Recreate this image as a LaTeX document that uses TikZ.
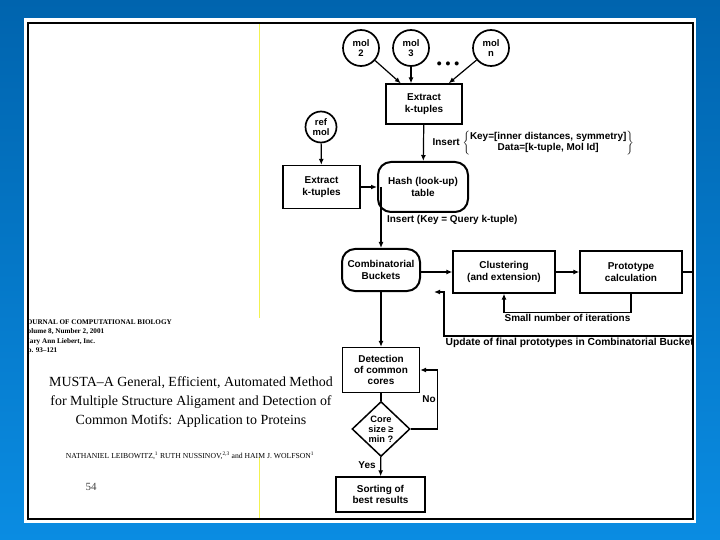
\documentclass[tikz,border=0pt]{standalone}
\usepackage{fontspec}
\setmainfont{Liberation Serif}
\setsansfont{Liberation Sans}
\usetikzlibrary{shapes.geometric,arrows.meta}

\definecolor{slidetop}{HTML}{0064AE}
\definecolor{slidebot}{HTML}{0A8CE2}
\definecolor{rulecol}{HTML}{F2F250}

\tikzset{
  flow/.style={font=\sffamily\bfseries\fontsize{10}{11.3}\selectfont, align=center, line width=1.3bp},
  procbox/.style={flow, draw, inner sep=2bp},
  roundbox/.style={flow, draw, rounded corners=13bp, line width=2bp},
  molnode/.style={flow, draw, circle, line width=1.7bp, minimum size=36bp, inner sep=0pt,
    font=\sffamily\bfseries\fontsize{9.5}{10}\selectfont},
  testnode/.style={flow, draw, diamond, line width=1.5bp, minimum width=58bp, minimum height=55bp,
    inner sep=0pt, font=\sffamily\bfseries\fontsize{9.3}{10}\selectfont},
  lbl/.style={font=\sffamily\bfseries\fontsize{10}{11}\selectfont, inner sep=1.5bp},
  link/.style={line width=1.2bp, ->},
  papertxt/.style={inner sep=0pt},
  >={Latex[length=6bp,width=5bp]}
}

\begin{document}
\begin{tikzpicture}[x=1bp,y=-1bp]
  \useasboundingbox (0,0) rectangle (720,540);
  \shade[top color=slidetop, bottom color=slidebot] (0,0) rectangle (720,540);
  \fill[white] (24,18) rectangle (696,523);

  \begin{scope}
    \clip (27.5,23) rectangle (692.5,519);
    % paper excerpt
    \draw[rulecol, line width=0.9bp] (259,23) -- (259,318);
    \draw[rulecol, line width=0.9bp] (259,457) -- (259,519);
    \node[papertxt, anchor=west, align=left, font=\rmfamily\bfseries\fontsize{7.2}{9.3}\selectfont] (jhead) at (23,337)
      {JOURNAL OF COMPUTATIONAL BIOLOGY\\Volume 8, Number 2, 2001\\Mary Ann Liebert, Inc.\\Pp. 93--121};
    \node[papertxt, align=center, font=\rmfamily\fontsize{14}{19}\selectfont] (title) at (191,402)
      {MUSTA--A General, Efficient, Automated Method\\for Multiple Structure Aligament and Detection of\\Common Motifs: Application to Proteins};
    \node[papertxt, font=\rmfamily\fontsize{7.7}{8}\selectfont] (auth) at (190,456)
      {NATHANIEL LEIBOWITZ,\textsuperscript{1} RUTH NUSSINOV,\textsuperscript{2,3} and HAIM J. WOLFSON\textsuperscript{1}};
    \node[papertxt, font=\rmfamily\fontsize{11}{12}\selectfont, text=black!75] (pgno) at (91,487) {54};

    % flow chart
    \node[molnode] (mol2) at (361,48) {mol\\2};
    \node[molnode] (mol3) at (411,48) {mol\\3};
    \node[molnode] (moln) at (491,48) {mol\\n};
    \node[flow, font=\sffamily\bfseries\fontsize{14}{14}\selectfont] (dots) at (448,65) {\textbullet\ \textbullet\ \textbullet};
    \node[procbox, minimum width=76bp, minimum height=40bp] (extA) at (424,104) {Extract\\k-tuples};
    \node[molnode, minimum size=31bp] (refmol) at (321,127) {ref\\mol};
    \node[procbox, minimum width=77bp, minimum height=43bp] (extB) at (321.5,187) {Extract\\k-tuples};
    \node[roundbox, minimum width=90bp, minimum height=50bp] (hash) at (423,187) {Hash (look-up)\\table};
    \node[roundbox, minimum width=78bp, minimum height=42bp] (bkt) at (381,270) {Combinatorial\\Buckets};
    \node[procbox, minimum width=102bp, minimum height=42bp] (clus) at (504,272) {Clustering\\(and extension)};
    \node[procbox, minimum width=102bp, minimum height=42bp] (proto) at (631,272) {Prototype\\calculation};
    \node[procbox, minimum width=77bp, minimum height=45bp] (det) at (381,370) {Detection\\of common\\cores};
    \node[testnode] (core) at (381,429) {Core\\size ≥\\min ?};
    \node[procbox, minimum width=89bp, minimum height=35bp] (sort) at (380.5,494.5) {Sorting of\\best results};

    \draw[link] (mol2) -- (extA);
    \draw[link] (mol3) -- (mol3 |- extA.north);
    \draw[link] (moln) -- (extA);
    \draw[link] (refmol) -- (extB);
    \draw[link] (extA) -- node[lbl, right, xshift=7bp] {Insert
      $\left\{\begin{tabular}{@{}c@{}}Key=[inner distances, symmetry]\\[0.5bp]Data=[k-tuple, Mol Id]\end{tabular}\right\}$} (hash);
    \draw[link] (extB) -- (hash);
    \draw[link] (hash.west -| bkt.north) -- node[lbl, right, pos=0.54, xshift=4bp] {Insert (Key = Query k-tuple)} (bkt.north);
    \draw[link] (bkt.east |- clus.west) -- (clus.west);
    \draw[link] (clus) -- (proto);
    \draw[link] (proto.south) -- ++(0,19) -| node[lbl, pos=0.25, below] {Small number of iterations} (clus.south);

    \coordinate (upd) at (444,336);
    \coordinate (bk) at ([xshift=13bp]bkt.south east);
    \draw[link] (proto.east) -- ++(30,0) |- (upd) |- (bk);
    \node[lbl, anchor=north west, font=\sffamily\bfseries\fontsize{10.3}{11}\selectfont] (updlbl) at (upd)
      {Update of final prototypes in Combinatorial Buckets};

    \draw[link] (bkt) -- (det);
    \draw[line width=1.2bp] (det) -- (core);
    \draw[link] (core.east) -- ++(27,0) |- node[lbl, pos=0.25, left] {No} (det.east);
    \draw[link] (core) -- node[lbl, left, pos=0.4, xshift=-3bp] {Yes} (sort);
  \end{scope}

  \draw[line width=2bp] (27.5,23) rectangle (692.5,519);
\end{tikzpicture}
\end{document}
